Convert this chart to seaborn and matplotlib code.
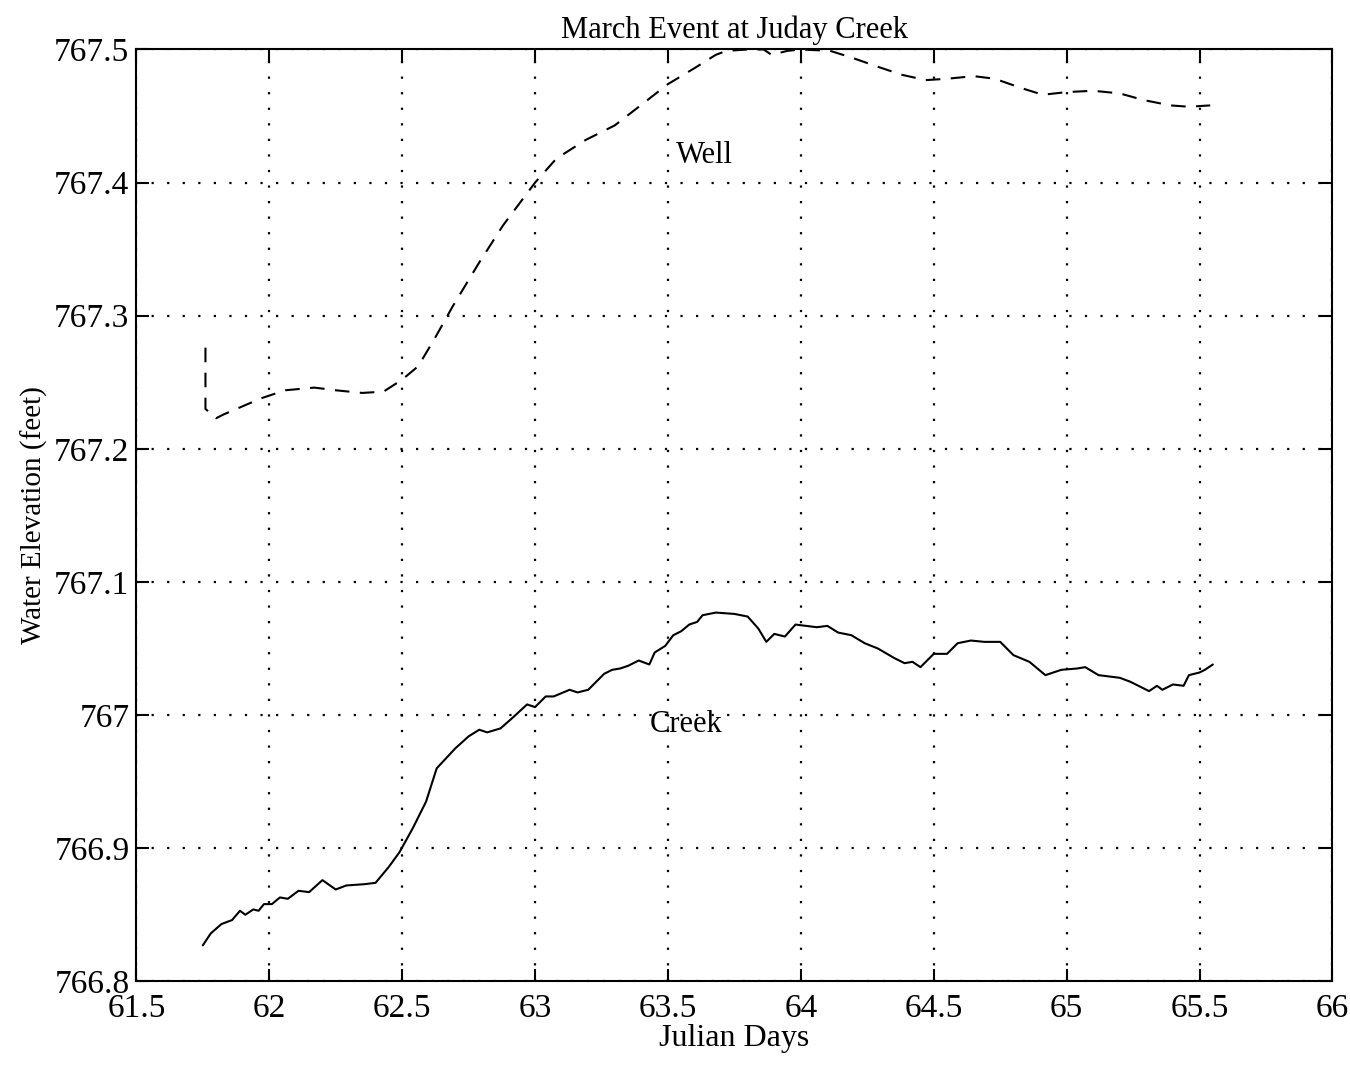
import matplotlib
matplotlib.use("Agg")
import matplotlib.pyplot as plt
import seaborn as sns
import pandas as pd

# ---- data ----
well_days = [61.76, 61.76, 61.80, 61.83, 61.90, 61.97, 62.06, 62.17, 62.25, 62.35, 62.43,
             62.50, 62.56, 62.62, 62.69, 62.79, 62.88, 63.00, 63.08, 63.19, 63.30,
             63.41, 63.50, 63.60, 63.68, 63.72, 63.80, 63.86, 63.89, 63.95, 64.00,
             64.11, 64.19, 64.29, 64.38, 64.47, 64.55, 64.65, 64.73, 64.83, 64.91,
             65.00, 65.10, 65.20, 65.29, 65.39, 65.46, 65.54]
well_elev = [767.276, 767.230, 767.223, 767.226, 767.232, 767.238, 767.244, 767.246, 767.244, 767.242, 767.243,
             767.252, 767.262, 767.282, 767.307, 767.340, 767.368, 767.400, 767.418, 767.432, 767.443,
             767.460, 767.474, 767.486, 767.496, 767.499, 767.500, 767.500, 767.496, 767.499, 767.500,
             767.499, 767.494, 767.487, 767.481, 767.477, 767.478, 767.480, 767.478, 767.471, 767.466,
             767.468, 767.469, 767.467, 767.462, 767.458, 767.457, 767.458]

creek_days = [61.75, 61.78, 61.82, 61.86, 61.89, 61.91, 61.94, 61.96, 61.98, 62.01,
              62.04, 62.07, 62.11, 62.15, 62.20, 62.25, 62.29, 62.36, 62.40, 62.45,
              62.49, 62.54, 62.59, 62.63, 62.70, 62.75, 62.79, 62.82, 62.87, 62.91,
              62.97, 63.00, 63.04, 63.07, 63.13, 63.16, 63.20, 63.26, 63.29, 63.32,
              63.35, 63.39, 63.43, 63.45, 63.49, 63.52, 63.55, 63.58, 63.61, 63.63,
              63.68, 63.75, 63.80, 63.84, 63.87, 63.90, 63.94, 63.98, 64.02, 64.06,
              64.10, 64.14, 64.19, 64.24, 64.29, 64.35, 64.39, 64.42, 64.45, 64.50,
              64.55, 64.59, 64.64, 64.69, 64.75, 64.80, 64.86, 64.92, 64.98, 65.04,
              65.07, 65.12, 65.20, 65.24, 65.31, 65.34, 65.36, 65.40, 65.44, 65.46,
              65.50, 65.52, 65.55]
creek_elev = [766.827, 766.836, 766.843, 766.846, 766.853, 766.850, 766.854, 766.853, 766.858, 766.858,
              766.863, 766.862, 766.868, 766.867, 766.876, 766.869, 766.872, 766.873, 766.874, 766.886,
              766.897, 766.915, 766.935, 766.960, 766.975, 766.984, 766.989, 766.987, 766.990, 766.997,
              767.008, 767.006, 767.014, 767.014, 767.019, 767.017, 767.019, 767.031, 767.034, 767.035,
              767.037, 767.041, 767.038, 767.047, 767.052, 767.060, 767.063, 767.068, 767.070, 767.075,
              767.077, 767.076, 767.074, 767.065, 767.055, 767.061, 767.059, 767.068, 767.067, 767.066,
              767.067, 767.062, 767.060, 767.054, 767.050, 767.043, 767.039, 767.040, 767.036, 767.046,
              767.046, 767.054, 767.056, 767.055, 767.055, 767.045, 767.040, 767.030, 767.034, 767.035,
              767.036, 767.030, 767.028, 767.025, 767.018, 767.022, 767.019, 767.023, 767.022, 767.030,
              767.032, 767.034, 767.038]

x_ticks = [61.5, 62, 62.5, 63, 63.5, 64, 64.5, 65, 65.5, 66]
x_labels = ["61.5", "62", "62.5", "63", "63.5", "64", "64.5", "65", "65.5", "66"]
y_ticks = [766.8, 766.9, 767.0, 767.1, 767.2, 767.3, 767.4, 767.5]
y_labels = ["766.8", "766.9", "767", "767.1", "767.2", "767.3", "767.4", "767.5"]

title = "March Event at Juday Creek"
x_title = "Julian Days"
y_title = "Water Elevation (feet)"

# ---- plotting ----
sns.set_style("ticks")
plt.rcParams['font.family'] = ['Liberation Serif', 'DejaVu Serif']
plt.rcParams['text.color'] = 'black'
plt.rcParams['axes.labelcolor'] = 'black'

fig = plt.figure(figsize=(13.5, 10.76), dpi=100)
ax = fig.add_axes([0.101, 0.088, 0.886, 0.866])

well_df = pd.DataFrame({"day": well_days, "elev": well_elev})
creek_df = pd.DataFrame({"day": creek_days, "elev": creek_elev})

sns.lineplot(data=well_df, x="day", y="elev", ax=ax, color="black",
             linewidth=1.5, sort=False, estimator=None)
ax.lines[-1].set_dashes((7, 5))
sns.lineplot(data=creek_df, x="day", y="elev", ax=ax, color="black",
             linewidth=1.5, sort=False, estimator=None)

ax.set_xlim(61.5, 66)
ax.set_ylim(766.8, 767.5)
ax.set_xticks(x_ticks)
ax.set_xticklabels(x_labels)
ax.set_yticks(y_ticks)
ax.set_yticklabels(y_labels)
ax.tick_params(direction="in", length=9, width=1.5, top=True, right=True,
               labelsize=24, colors="black")
ax.tick_params(axis="x", pad=9)
ax.tick_params(axis="y", pad=5)
ax.grid(True, color="black", linestyle=(0, (1, 6)), linewidth=1.6)
for s in ax.spines.values():
    s.set_linewidth(1.5)
    s.set_color("black")

ax.set_title(title, fontsize=22, pad=8, color="black")
ax.set_xlabel(x_title, fontsize=23, labelpad=0, color="black")
ax.set_ylabel(y_title, fontsize=21, labelpad=4, color="black")

ax.text(63.53, 767.42, "Well", fontsize=22, va="center", ha="left")
ax.text(63.43, 766.993, "Creek", fontsize=22, va="center", ha="left")

fig.savefig("out.png", dpi=100)
